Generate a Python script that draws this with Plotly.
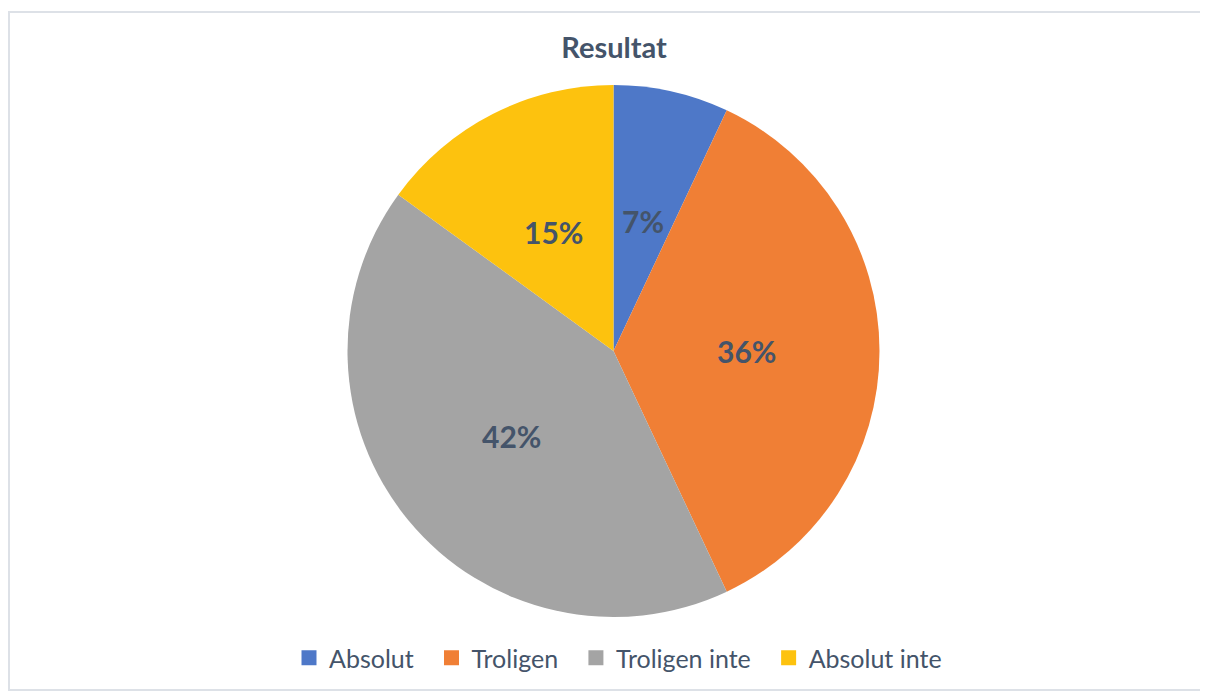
import math
import plotly.graph_objects as go

categories = ["Absolut", "Troligen", "Troligen inte", "Absolut inte"]
values = [7, 36, 42, 15]
colors = ["#4E78C8", "#F07F35", "#A4A4A4", "#FDC20E"]
title_text = "Resultat"

# figure is placed 8px in from the page corner by the browser's body margin
W, H = 1200, 684
cx, cy, R = 605.5, 343, 266
label_r = 0.5 * R
text_color = "#44546A"

fig = go.Figure(
    go.Pie(
        labels=categories,
        values=values,
        sort=False,
        direction="clockwise",
        rotation=0,
        marker=dict(colors=colors, line=dict(width=0)),
        textinfo="none",
        hoverinfo="label+percent",
        showlegend=False,
        domain=dict(x=[(cx - R) / W, (cx + R) / W], y=[(H - cy - R) / H, (H - cy + R) / H]),
    )
)

# legend entries (square swatches) as empty scatter traces
for i, (name, col) in enumerate(zip(categories, colors)):
    pad = "&nbsp;&nbsp;" if i < len(categories) - 1 else ""
    fig.add_trace(
        go.Scatter(
            x=[None],
            y=[None],
            mode="markers",
            name=name + pad,
            marker=dict(symbol="square", size=15, color=col),
            showlegend=True,
            hoverinfo="skip",
        )
    )

# percentage labels placed at mid-angle of each slice, half way out
total = sum(values)
annotations = []
cum = 0
for v in values:
    mid = (cum + v / 2) / total * 2 * math.pi
    cum += v
    px = cx + label_r * math.sin(mid)
    py = cy - label_r * math.cos(mid)
    annotations.append(
        dict(
            x=px / W,
            y=1 - py / H,
            xref="paper",
            yref="paper",
            text="<b>%d%%</b>" % round(v / total * 100),
            showarrow=False,
            xanchor="center",
            yanchor="middle",
            font=dict(family="Lato", size=30, color=text_color),
        )
    )

fig.update_layout(
    width=W,
    height=H,
    margin=dict(l=0, r=0, t=0, b=0),
    paper_bgcolor="white",
    plot_bgcolor="white",
    xaxis=dict(visible=False),
    yaxis=dict(visible=False),
    title=dict(
        text="<b>" + title_text + "</b>",
        x=606 / W,
        xanchor="center",
        y=1 - 40 / H,
        yanchor="middle",
        font=dict(family="Lato", size=29, color=text_color),
    ),
    legend=dict(
        orientation="h",
        x=610 / W,
        xanchor="center",
        y=1 - 650 / H,
        yanchor="middle",
        font=dict(family="Lato", size=25, color=text_color),
        itemwidth=30,
        traceorder="normal",
    ),
    annotations=annotations,
    shapes=[
        dict(
            type="rect",
            xref="paper",
            yref="paper",
            x0=1 / W,
            x1=1.01,
            y0=1 - 682 / H,
            y1=1 - 4 / H,
            line=dict(color="#DDE1E7", width=2),
            fillcolor="rgba(0,0,0,0)",
            layer="below",
        )
    ],
)

fig.write_html("out.html")
